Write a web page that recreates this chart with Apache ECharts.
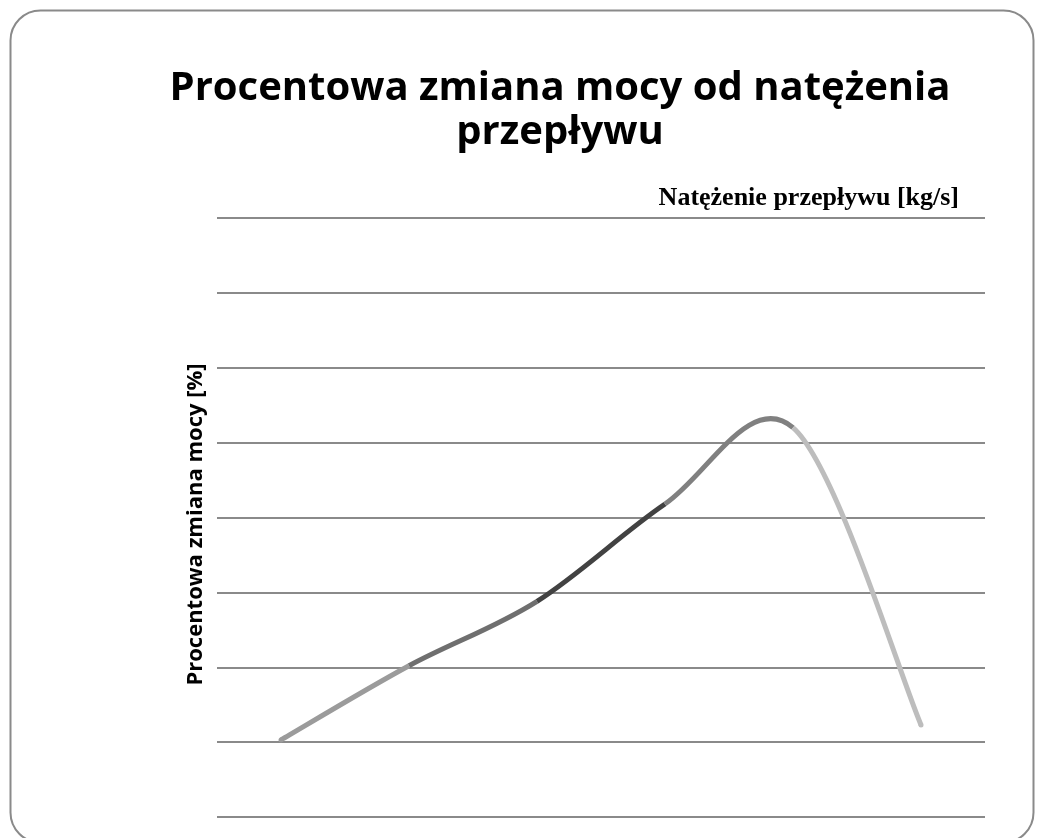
<!DOCTYPE html>
<html>
<head>
<meta charset="utf-8">
<script src="https://cdn.jsdelivr.net/npm/echarts@6/dist/echarts.min.js"></script>
<style>html,body{margin:0;padding:0;background:#fff}#c{width:1037px;height:838px}</style>
</head>
<body>
<div id="c"></div>
<script>
const titleText = 'Procentowa zmiana mocy od natężenia\nprzepływu';
const xAxisName = 'Natężenie przepływu [kg/s]';
const yAxisName = 'Procentowa zmiana mocy [%]';
const categories = ['1', '2', '3', '4', '5', '6'];
const values = [1.03, 2.02, 2.88, 4.18, 5.2, 1.23];
const segmentColors = ['#9b9b9b', '#6f6f6f', '#424242', '#808080', '#bdbdbd'];

function renderSegment(params, api) {
  const i = params.dataIndex;
  const n = values.length;
  if (i >= n - 1) return null;
  const P = k => {
    const j = Math.max(0, Math.min(n - 1, k));
    return api.coord([j, values[j]]);
  };
  const p0 = P(i - 1), p1 = P(i), p2 = P(i + 1), p3 = P(i + 2);
  const cp1 = [p1[0] + (p2[0] - p0[0]) / 6, p1[1] + (p2[1] - p0[1]) / 6];
  const cp2 = [p2[0] - (p3[0] - p1[0]) / 6, p2[1] - (p3[1] - p1[1]) / 6];
  const color = segmentColors[i];
  const children = [{
    type: 'bezierCurve',
    shape: { x1: p1[0], y1: p1[1], x2: p2[0], y2: p2[1], cpx1: cp1[0], cpy1: cp1[1], cpx2: cp2[0], cpy2: cp2[1] },
    style: { fill: null, stroke: color, lineWidth: 5, lineCap: 'butt' }
  }];
  if (i === 0) children.push({ type: 'circle', shape: { cx: p1[0], cy: p1[1], r: 2.5 }, style: { fill: color } });
  if (i === n - 2) children.push({ type: 'circle', shape: { cx: p2[0], cy: p2[1], r: 2.5 }, style: { fill: color } });
  return { type: 'group', children };
}

const chart = echarts.init(document.getElementById('c'));
chart.setOption({
  animation: false,
  backgroundColor: '#fff',
  graphic: [{
    type: 'rect', left: 8, top: 8, z: -1,
    shape: { width: 1023, height: 832, r: 30 },
    style: { fill: 'none', stroke: '#8a8a8a', lineWidth: 2 }
  }],
  title: [{
    text: titleText,
    left: 555, top: 62, textAlign: 'center',
    textStyle: { fontFamily: 'Open Sans', fontWeight: 'bold', fontSize: 40, lineHeight: 44, color: '#000' }
  }, {
    text: xAxisName,
    left: 954, top: 180, textAlign: 'right',
    textStyle: { fontFamily: 'Liberation Serif', fontWeight: 'bold', fontSize: 26, color: '#000' }
  }],
  grid: { left: 217, right: 52, top: 218, bottom: 21 },
  xAxis: {
    type: 'category', data: categories, boundaryGap: true,
    axisLine: { show: false }, axisTick: { show: false }, axisLabel: { show: false }
  },
  yAxis: {
    type: 'value', min: 0, max: 8, interval: 1,
    name: yAxisName, nameLocation: 'middle', nameGap: 10, nameRotate: 90,
    nameTextStyle: { fontFamily: 'Open Sans', fontWeight: 'bold', fontSize: 22, color: '#000', padding: [0, 14, 0, 0] },
    axisLine: { show: false }, axisTick: { show: false }, axisLabel: { show: false },
    splitLine: { show: true, lineStyle: { color: '#8a8a8a', width: 2 } }
  },
  series: [{
    type: 'custom',
    coordinateSystem: 'cartesian2d',
    data: values.map((v, i) => [i, v]),
    encode: { x: 0, y: 1 },
    renderItem: renderSegment
  }]
});
</script>
</body>
</html>
